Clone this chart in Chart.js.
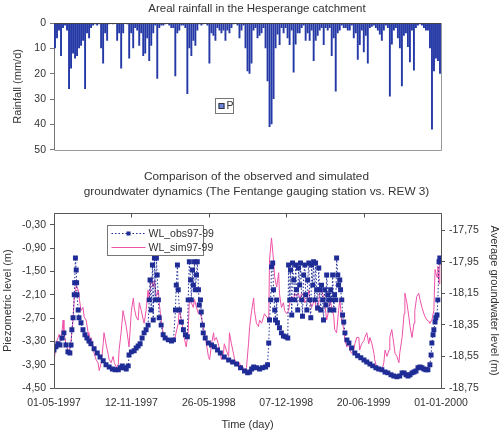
<!DOCTYPE html>
<html>
<head>
<meta charset="utf-8">
<script src="https://cdn.jsdelivr.net/npm/chart.js@4/dist/chart.umd.min.js"></script>
<style>
  html, body { margin: 0; padding: 0; background: #fff; }
  #wrap { position: relative; width: 503px; height: 439px; }
  #rainBox { position: absolute; left: 0; top: 0; }
  #levelBox { position: absolute; left: 0; top: 160px; }
</style>
</head>
<body>
<div id="wrap">
  <div id="rainBox"><canvas id="rainChart" width="503" height="160"></canvas></div>
  <div id="levelBox"><canvas id="levelChart" width="503" height="279"></canvas></div>
</div>
<script>
// ---- data ----
// daily rainfall, one value per ~5 days (mm/d)
const rainfall = [
  10, 6, 3, 13, 2, 1, 3, 26, 18, 12, 14, 13, 10, 9, 7, 26, 4, 6, 2, 1,
  0.5, 1, 0.5, 10, 16, 4, 7, 0.5, 0, 0.5, 0, 7, 4, 18, 4, 0, 0.5, 14, 4, 10,
  2, 3, 9, 4, 13, 12, 6, 15, 9, 4, 1, 22, 2, 1, 1, 0.5, 0, 1, 2, 2,
  21, 4, 3, 1, 1, 2, 28, 10, 13, 7, 9, 3, 0.5, 1, 0.5, 0, 1, 16, 4, 5,
  7, 2, 3, 4, 3, 7, 3, 4, 2, 0.5, 0, 1, 6, 3, 1, 10, 19, 20, 16, 3,
  2, 6, 5, 4, 2, 10, 23, 41, 40, 30, 10, 4.5, 8.7, 2, 4, 2, 6, 8.7, 3, 19.5,
  8.5, 4, 4, 2, 1, 7, 4, 7, 3, 15, 7, 5, 3, 2, 8.7, 2, 3, 2, 13, 6,
  27, 4, 3, 1, 2, 2, 3, 3, 1, 6, 4, 14.5, 8.7, 3, 11.5, 5, 16, 2, 1.5, 1,
  2, 3, 4.5, 7, 3, 1, 2, 29, 8.5, 3, 2, 6, 10, 25, 5, 4, 9.5, 15.5, 3, 18.7,
  2, 1, 0.5, 1, 2, 3, 3, 10, 42, 19, 14, 15, 20
];
const rainPeriod = rainfall.map((v, i) => i);

// days since 01-05-1997
const obsDay = [
  0, 5, 10, 15, 20, 25, 30, 35, 40, 43, 45, 48, 51, 52, 54, 56, 57, 58, 61, 63,
  68, 73, 78, 83, 88, 93, 101, 109, 116, 124, 131, 139, 147, 154, 162, 167, 172, 177, 182, 187,
  189, 195, 202, 207, 212, 217, 222, 227, 232, 237, 240, 242, 245, 248, 250, 253, 255, 258, 260, 263,
  265, 270, 275, 280, 288, 296, 301, 306, 308, 311, 313, 316, 321, 326, 331, 336, 338, 341, 344, 346,
  349, 351, 354, 356, 359, 361, 364, 366, 369, 371, 374, 376, 381, 389, 397, 404, 412, 419, 429, 440,
  450, 460, 470, 480, 488, 493, 498, 503, 510, 518, 525, 533, 538, 541, 543, 546, 548, 551, 553, 556,
  558, 561, 563, 568, 573, 578, 584, 589, 591, 594, 596, 599, 601, 604, 606, 609, 611, 614, 616, 619,
  621, 624, 626, 629, 632, 634, 637, 639, 642, 644, 647, 649, 652, 654, 657, 659, 662, 664, 667, 669,
  672, 674, 677, 679, 682, 685, 687, 690, 692, 695, 697, 700, 702, 705, 707, 710, 712, 715, 717, 720,
  722, 725, 727, 730, 733, 738, 743, 750, 758, 765, 773, 781, 788, 796, 803, 811, 818, 826, 834, 841,
  849, 856, 864, 871, 877, 882, 887, 892, 897, 902, 907, 912, 917, 922, 927, 932, 937, 942, 947, 950,
  952, 955, 957, 960, 962, 965, 967, 970, 972, 975
];
// observed piezometric level (m), left axis
const obsLevel = [
  -3.52, -3.44, -3.36, -3.39, -3.21, -3.08, -3.39, -3.57, -3.60, -3.39, -3.00, -2.69, -2.10, -1.79, -1.15, -1.46, -1.79, -2.10, -2.49, -2.69,
  -2.82, -3.00, -3.13, -3.21, -3.29, -3.36, -3.49, -3.60, -3.70, -3.80, -3.90, -3.96, -4.01, -4.03, -4.03, -3.98, -3.93, -3.98, -4.01, -3.93,
  -3.65, -3.57, -3.54, -3.47, -3.42, -3.36, -3.21, -3.08, -3.00, -2.88, -2.23, -1.72, -2.49, -1.33, -2.75, -1.15, -2.23, -1.15, -1.59, -2.23,
  -2.69, -2.88, -3.13, -3.21, -3.26, -3.29, -3.26, -2.49, -1.85, -1.33, -1.97, -2.49, -2.80, -3.00, -3.13, -3.18, -2.23, -1.25, -1.72, -2.23,
  -1.46, -1.85, -1.25, -1.97, -1.59, -1.25, -1.97, -2.36, -2.23, -2.54, -2.88, -3.08, -3.21, -3.34, -3.39, -3.44, -3.52, -3.60, -3.70, -3.78,
  -3.83, -3.88, -3.98, -4.06, -4.11, -4.09, -4.01, -3.96, -3.98, -4.01, -3.98, -3.96, -3.90, -3.34, -2.75, -2.23, -1.38, -1.28, -1.97, -2.49,
  -2.75, -2.23, -2.82, -2.95, -3.08, -3.16, -3.18, -3.21, -1.33, -2.23, -1.46, -2.62, -1.28, -1.72, -2.23, -1.33, -1.97, -2.49, -1.41, -1.85,
  -1.28, -2.23, -2.65, -1.59, -1.33, -2.10, -2.49, -1.72, -1.28, -2.23, -2.69, -1.33, -1.85, -1.25, -2.23, -1.28, -1.97, -2.44, -1.41, -1.97,
  -2.49, -1.85, -2.23, -2.75, -1.97, -2.36, -1.59, -2.10, -2.23, -2.49, -1.97, -2.23, -1.59, -2.49, -2.10, -2.23, -1.15, -1.59, -1.85, -1.72,
  -1.97, -2.23, -2.62, -2.80, -3.08, -3.26, -3.34, -3.47, -3.60, -3.67, -3.72, -3.78, -3.83, -3.88, -3.93, -3.98, -4.01, -4.03, -4.09, -4.11,
  -4.16, -4.19, -4.21, -4.19, -4.11, -4.11, -4.16, -4.19, -4.16, -4.11, -4.09, -4.06, -3.98, -3.96, -3.98, -4.01, -4.03, -4.03, -3.90, -3.65,
  -3.34, -3.13, -3.00, -2.80, -2.69, -2.62, -2.23, -1.25, -1.15, -1.25
];

const simDay = [
  0, 5, 13, 18, 23, 25, 30, 35, 38, 43, 48, 51, 56, 61, 63, 68, 73, 76, 81, 86,
  88, 93, 99, 101, 106, 111, 114, 119, 124, 126, 131, 136, 139, 144, 149, 152, 157, 162, 164, 169,
  174, 177, 182, 187, 189, 195, 200, 202, 207, 212, 215, 220, 225, 227, 232, 237, 240, 245, 250, 253,
  258, 263, 265, 270, 275, 278, 288, 296, 303, 313, 316, 321, 328, 333, 338, 341, 346, 351, 354, 359,
  364, 366, 371, 379, 384, 389, 392, 397, 402, 404, 409, 414, 417, 422, 427, 429, 434, 440, 442, 447,
  452, 455, 460, 465, 467, 472, 477, 480, 485, 490, 493, 498, 503, 505, 510, 515, 518, 523, 528, 530,
  536, 541, 543, 548, 553, 556, 561, 566, 568, 573, 578, 581, 586, 591, 594, 599, 604, 606, 611, 616,
  619, 624, 629, 632, 637, 642, 644, 649, 657, 662, 667, 669, 674, 679, 682, 687, 692, 695, 700, 705,
  707, 712, 717, 720, 725, 730, 733, 738, 743, 745, 750, 755, 758, 763, 768, 770, 775, 781, 783, 788,
  793, 796, 801, 806, 808, 813, 818, 821, 826, 831, 834, 839, 844, 846, 851, 856, 859, 864, 869, 871,
  877, 882, 884, 889, 894, 897, 902, 907, 909, 914, 919, 922, 927, 932, 935, 940, 945, 947, 952, 957,
  960, 965, 967, 970, 972
];
// simulated average groundwater level (m), right axis
const simLevel = [
  -18.59, -18.47, -18.41, -18.45, -18.32, -18.40, -18.47, -18.51, -18.53, -18.45, -18.32, -18.19, -18.10, -18.13, -18.17, -18.26, -18.24, -18.30, -18.32, -18.40,
  -18.47, -18.43, -18.49, -18.53, -18.57, -18.59, -18.64, -18.59, -18.47, -18.40, -18.47, -18.53, -18.57, -18.59, -18.55, -18.59, -18.62, -18.60, -18.51, -18.40,
  -18.26, -18.30, -18.36, -18.45, -18.49, -18.26, -18.18, -18.24, -18.30, -18.32, -18.21, -18.26, -18.32, -18.34, -18.26, -18.13, -18.19, -18.05, -18.11, -18.07,
  -18.17, -18.13, -18.21, -18.32, -18.40, -18.43, -18.45, -18.46, -18.45, -18.34, -18.24, -18.32, -18.43, -18.49, -18.40, -18.19, -18.21, -18.24, -18.19, -18.24,
  -18.28, -18.26, -18.30, -18.40, -18.47, -18.55, -18.57, -18.47, -18.40, -18.45, -18.43, -18.47, -18.51, -18.57, -18.53, -18.47, -18.51, -18.55, -18.40, -18.47,
  -18.53, -18.57, -18.59, -18.62, -18.59, -18.62, -18.62, -18.64, -18.62, -18.47, -18.36, -18.26, -18.18, -18.26, -18.34, -18.36, -18.32, -18.34, -18.30, -18.28,
  -18.30, -18.32, -17.94, -17.80, -17.94, -18.05, -18.11, -18.02, -18.15, -18.24, -18.21, -18.26, -18.28, -18.26, -18.21, -18.17, -18.19, -18.15, -18.17, -18.15,
  -18.19, -18.15, -18.17, -18.21, -18.19, -18.13, -18.19, -18.24, -18.19, -18.26, -18.21, -18.15, -18.13, -18.17, -18.21, -18.32, -18.26, -18.19, -18.24, -18.30,
  -18.38, -18.40, -18.26, -18.19, -18.32, -18.38, -18.45, -18.49, -18.47, -18.51, -18.53, -18.51, -18.47, -18.43, -18.43, -18.51, -18.47, -18.45, -18.43, -18.40,
  -18.47, -18.43, -18.47, -18.53, -18.57, -18.62, -18.62, -18.62, -18.64, -18.59, -18.51, -18.55, -18.51, -18.43, -18.38, -18.47, -18.53, -18.55, -18.59, -18.53,
  -18.43, -18.28, -18.15, -18.21, -18.30, -18.36, -18.43, -18.34, -18.26, -18.17, -18.15, -18.19, -18.24, -18.28, -18.30, -18.32, -18.33, -18.34, -18.32, -18.26,
  -18.00, -18.05, -17.98, -18.09, -17.94
];

const xTickDays = [0, 195, 390, 585, 780, 975];
const leftTicks = [-4.5, -3.9, -3.3, -2.7, -2.1, -1.5, -0.9, -0.3];
const rightTicks = [-18.75, -18.55, -18.35, -18.15, -17.95, -17.75];

// ---- helpers ----
const FONT = "'Liberation Sans', Arial, sans-serif";
const TXT = '#333';
const START = Date.UTC(1997, 4, 1);

function dayLabel(d) {
  const t = new Date(START + d * 86400000);
  const dd = String(t.getUTCDate()).padStart(2, '0');
  const mm = String(t.getUTCMonth() + 1).padStart(2, '0');
  return dd + '-' + mm + '-' + t.getUTCFullYear();
}
function comma(v) { return v.toFixed(2).replace('.', ','); }

// frame round the plot area + optional inward ticks on the top edge
const plotFrame = {
  id: 'plotFrame',
  afterDraw(chart, args, opts) {
    const { ctx, chartArea: { left, right, top, bottom } } = chart;
    ctx.save();
    ctx.lineWidth = 1;
    const seg = (c, x1, y1, x2, y2) => {
      if (!c) return;
      ctx.strokeStyle = c;
      ctx.beginPath();
      ctx.moveTo(x1, y1);
      ctx.lineTo(x2, y2);
      ctx.stroke();
    };
    const L = Math.round(left) + 0.5, R = Math.round(right) + 0.5;
    const T = Math.round(top) + 0.5, B = Math.round(bottom) + 0.5;
    seg(opts.top, L, T, R, T);
    seg(opts.right, R, T, R, B);
    seg(opts.bottom, L, B, R, B);
    seg(opts.left, L, T, L, B);
    if (opts.topTicks) {
      const xs = chart.scales.x;
      xs.ticks.forEach(t => {
        const px = Math.round(xs.getPixelForValue(t.value)) + 0.5;
        seg(opts.top, px, T, px, T + 4);
      });
    }
    ctx.restore();
  }
};

// small boxed legend placed inside the plot area
const insideLegend = {
  id: 'insideLegend',
  afterDraw(chart, args, opts) {
    if (!opts.display) return;
    const { ctx, chartArea } = chart;
    const bx = Math.round(chartArea.left + opts.x) + 0.5;
    const by = Math.round(chartArea.top + opts.y) + 0.5;
    ctx.save();
    ctx.fillStyle = '#fff';
    ctx.fillRect(bx, by, opts.w, opts.h);
    ctx.strokeStyle = '#777';
    ctx.lineWidth = 1;
    ctx.strokeRect(bx, by, opts.w, opts.h);
    ctx.font = '10.5px ' + FONT;
    ctx.textBaseline = 'middle';
    ctx.textAlign = 'left';
    chart.data.datasets.forEach((ds, i) => {
      const cy = by + opts.rowY[i];
      if (opts.kind === 'box') {
        ctx.fillStyle = '#6a86d6';
        ctx.fillRect(bx + 3, cy - 3, 6, 6);
        ctx.strokeStyle = '#334';
        ctx.strokeRect(bx + 3.5, cy - 2.5, 5, 5);
        ctx.fillStyle = TXT;
        ctx.fillText(ds.label, bx + 11, cy);
      } else {
        ctx.strokeStyle = ds.borderColor;
        ctx.lineWidth = 1;
        ctx.setLineDash(ds.borderDash || []);
        ctx.beginPath();
        ctx.moveTo(bx + 4, cy);
        ctx.lineTo(bx + 38, cy);
        ctx.stroke();
        ctx.setLineDash([]);
        if (ds.pointRadius > 0) {
          ctx.fillStyle = ds.pointBackgroundColor;
          ctx.fillRect(bx + 19, cy - 2, 4, 4);
        }
        ctx.fillStyle = TXT;
        ctx.fillText(ds.label, bx + 41, cy + 0.5);
      }
    });
    ctx.restore();
  }
};

const tickFont = { family: FONT, size: 10.5 };
const axisTitleFont = { family: FONT, size: 11, weight: 'normal' };

// ---- rainfall chart ----
new Chart(document.getElementById('rainChart'), {
  type: 'bar',
  data: {
    labels: rainPeriod,
    datasets: [{
      label: 'P',
      data: rainfall,
      backgroundColor: '#2438a6',
      barPercentage: 0.95,
      categoryPercentage: 1
    }]
  },
  options: {
    responsive: false,
    animation: false,
    layout: { padding: { left: 11, right: 0, top: 0, bottom: 9 } },
    plugins: {
      legend: { display: false },
      tooltip: { enabled: false },
      title: {
        display: true,
        text: 'Areal rainfall in the Hesperange catchment',
        color: TXT,
        font: { family: FONT, size: 11.5, weight: 'normal' },
        padding: { top: 2.1, bottom: 7.1 }
      },
      plotFrame: { top: '#444', right: '#999', bottom: '#999' },
      insideLegend: { display: true, kind: 'box', x: 161, y: 75, w: 18, h: 15, rowY: [7.5] }
    },
    scales: {
      x: { display: false },
      y: {
        reverse: true,
        min: 0,
        max: 50,
        ticks: { stepSize: 10, color: TXT, font: tickFont, padding: 4 },
        grid: { drawOnChartArea: false, drawTicks: true, tickLength: 4, color: '#777' },
        border: { display: true, color: '#777' },
        title: { display: true, text: 'Rainfall (mm/d)', color: TXT, font: axisTitleFont, padding: { top: 0.4, bottom: 0 } },
        afterFit(s) { s.width = 43; }
      },
      // empty right margin so the title centres on the whole picture
      yr: {
        type: 'linear',
        position: 'right',
        display: true,
        ticks: { display: false },
        grid: { display: false },
        border: { display: false },
        afterFit(s) { s.width = 62; }
      }
    }
  },
  plugins: [plotFrame, insideLegend]
});

// ---- groundwater chart ----
new Chart(document.getElementById('levelChart'), {
  type: 'line',
  data: {
    datasets: [{
      label: 'WL_obs97-99',
      data: obsDay.map((d, i) => ({ x: d, y: obsLevel[i] })),
      yAxisID: 'y',
      borderColor: '#1f2c96',
      borderWidth: 1,
      borderDash: [1.5, 2],
      pointStyle: 'rect',
      pointRadius: 3.5,
      pointBorderWidth: 0,
      pointBackgroundColor: '#1f2c96',
      tension: 0
    }, {
      label: 'WL_sim97-99',
      data: simDay.map((d, i) => ({ x: d, y: simLevel[i] })),
      yAxisID: 'y2',
      borderColor: '#ee52a8',
      borderWidth: 1,
      pointRadius: 0,
      tension: 0
    }]
  },
  options: {
    responsive: false,
    animation: false,
    layout: { padding: { left: 10, right: 0, top: 0, bottom: 0 } },
    plugins: {
      legend: { display: false },
      tooltip: { enabled: false },
      title: {
        display: true,
        text: ['Comparison of the observed and simulated',
               'groundwater dynamics (The Fentange gauging station vs. REW 3)'],
        color: TXT,
        font: { family: FONT, size: 11.8, weight: 'normal', lineHeight: 15 / 11.8 },
        padding: { top: 9.5, bottom: 13.8 }
      },
      plotFrame: { top: '#555', right: '#555', bottom: '#555', left: '#555', topTicks: true },
      insideLegend: { display: true, kind: 'line', x: 53, y: 12, w: 96, h: 30, rowY: [8, 22] }
    },
    scales: {
      x: {
        type: 'linear',
        min: 0,
        max: 975,
        afterBuildTicks(s) { s.ticks = xTickDays.map(v => ({ value: v })); },
        ticks: { color: TXT, font: tickFont, padding: 8.7, maxRotation: 0, callback: v => dayLabel(v) },
        grid: { display: false, drawTicks: false },
        border: { display: false },
        title: { display: true, text: 'Time (day)', color: TXT, font: axisTitleFont, padding: { top: 0, bottom: 7.4 } },
        afterFit(s) { s.height = 51; }
      },
      y: {
        position: 'left',
        min: -4.5,
        max: 0,
        afterBuildTicks(s) { s.ticks = leftTicks.map(v => ({ value: v })); },
        ticks: { color: TXT, font: tickFont, padding: 4, callback: v => comma(v) },
        grid: { drawOnChartArea: false, drawTicks: true, tickLength: 4, color: '#555' },
        border: { display: false },
        title: { display: true, text: 'Piezometric level (m)', color: TXT, font: axisTitleFont, padding: { top: -8.6, bottom: 0 } },
        afterFit(s) { s.width = 44; }
      },
      y2: {
        position: 'right',
        min: -18.75,
        max: -17.644,
        afterBuildTicks(s) { s.ticks = rightTicks.map(v => ({ value: v })); },
        ticks: { color: TXT, font: tickFont, padding: 4, callback: v => comma(v) },
        grid: { drawOnChartArea: false, drawTicks: true, tickLength: 4, color: '#555' },
        border: { display: false },
        title: { display: true, text: 'Average groundwater level (m)', color: TXT, font: axisTitleFont, padding: { top: 2, bottom: 0 } },
        afterFit(s) { s.width = 62; }
      }
    }
  },
  plugins: [plotFrame, insideLegend]
});
</script>
</body>
</html>
